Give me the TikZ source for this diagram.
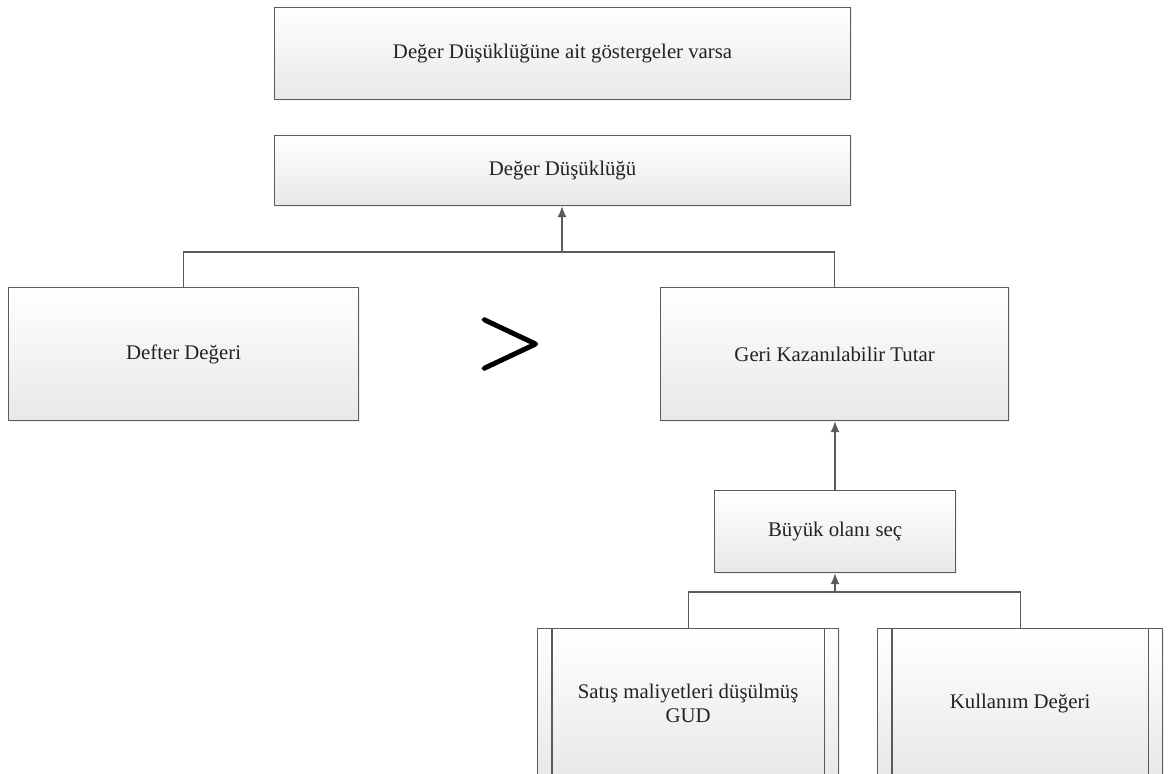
\documentclass[tikz,border=0pt]{standalone}
\usepackage{fontspec}
\setmainfont{Liberation Serif}
\newfontfamily\symfont[FakeBold=1.5]{lmroman10-regular.otf}
\usetikzlibrary{arrows.meta,shadows}
\definecolor{edge}{HTML}{5A5A5A}
\definecolor{ink}{HTML}{222222}
\begin{document}
\begin{tikzpicture}[x=1pt,y=-1pt,
  box/.style={draw=edge, line width=1.2pt, top color=white, bottom color=black!9,
    rectangle, inner sep=0pt, anchor=north west, text=ink,
    font=\fontsize{20.8}{24}\selectfont, align=center,
    drop shadow={opacity=0.12, shadow xshift=1.5pt, shadow yshift=-1.5pt}},
  link/.style={draw=edge, line width=1.2pt},
  up/.style={link, -{Latex[length=11pt,width=9pt]}}
]
\useasboundingbox (0,0) rectangle (1168,774);
\clip (0,0) rectangle (1168,774);

% boxes
\node[box, minimum width=576pt, minimum height=92pt] (top) at (274,7)
  {Değer Düşüklüğüne ait göstergeler varsa};
\node[box, minimum width=576pt, minimum height=70pt] (dd) at (274,135)
  {Değer Düşüklüğü};
\node[box, minimum width=350pt, minimum height=133pt] (defter) at (8,287)
  {Defter Değeri};
\node[box, minimum width=348pt, minimum height=133pt] (geri) at (660,287)
  {Geri Kazanılabilir Tutar};
\node[box, minimum width=241pt, minimum height=82pt] (buyuk) at (714,490)
  {Büyük olanı seç};
\node[box, minimum width=301pt, minimum height=150pt] (satis) at (537,628)
  {Satış maliyetleri düşülmüş\\GUD};
\node[box, minimum width=285pt, minimum height=150pt] (kullanim) at (877,628)
  {Kullanım Değeri};

% side bars of the predefined-process boxes
\foreach \b in {satis,kullanim}{
  \draw[link] ([xshift=15pt]\b.north west) -- ([xshift=15pt]\b.south west);
  \draw[link] ([xshift=-15pt]\b.north east) -- ([xshift=-15pt]\b.south east);
}

% comparison sign
\node[text=black, font=\symfont\fontsize{90}{90}\selectfont, inner sep=0pt] (gt) at (510,344) {>};

% connectors
\coordinate (j1) at (562,252);
\coordinate (j2) at (835,592);
\draw[link] (defter.north) |- (j1) -| (geri.north);
\draw[up] (j1) -- (dd.south -| j1);
\draw[up] (buyuk.north -| j2) -- (geri.south -| j2);
\draw[link] (satis.north) |- (j2) -| (kullanim.north);
\draw[up] (j2) -- (buyuk.south -| j2);
\end{tikzpicture}
\end{document}
